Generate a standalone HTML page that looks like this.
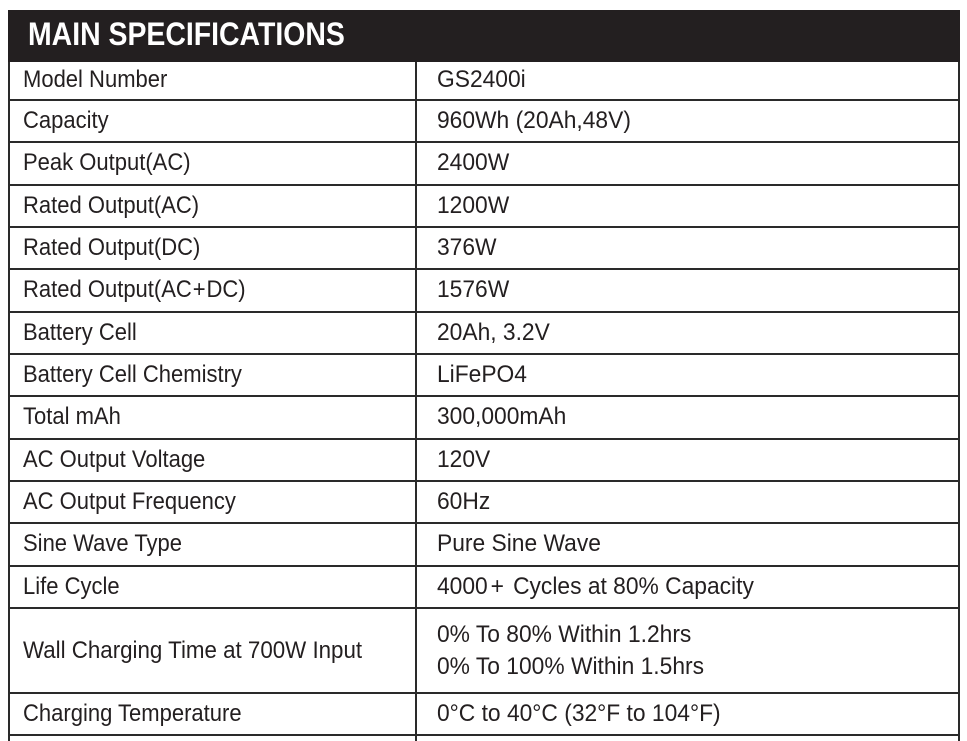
<!DOCTYPE html>
<html>
<head>
<meta charset="utf-8">
<style>
html,body{margin:0;padding:0;background:#fff;}
body{width:967px;height:741px;position:relative;overflow:hidden;font-family:"Liberation Sans",Arial,sans-serif;color:#231f20;}
.hdr{position:absolute;left:8px;top:10px;width:952px;height:52px;background:#231f20;}
.ht{position:absolute;left:28px;top:10px;height:48px;line-height:48px;font-weight:bold;font-size:32px;color:#fff;transform:scaleX(0.888);transform-origin:left center;white-space:nowrap;}
.h{position:absolute;left:8px;width:952px;height:2px;background:#2a2a2a;}
.v{position:absolute;width:2px;background:#2a2a2a;}
.t{position:absolute;font-size:24px;white-space:nowrap;transform:scaleX(0.917);transform-origin:left center;}
.r{transform:scaleX(0.95);}
.p{margin:0 3px;}
</style>
</head>
<body>
<div class="hdr"></div>
<div class="ht">MAIN SPECIFICATIONS</div>

<!-- verticals -->
<div class="v" style="left:8px;top:62px;height:679px;"></div>
<div class="v" style="left:415px;top:62px;height:679px;width:1.6px;"></div>
<div class="v" style="left:958px;top:62px;height:679px;"></div>

<!-- horizontals -->
<div class="h" style="top:99px"></div>
<div class="h" style="top:141.3px"></div>
<div class="h" style="top:183.7px"></div>
<div class="h" style="top:226px"></div>
<div class="h" style="top:268.3px"></div>
<div class="h" style="top:310.7px"></div>
<div class="h" style="top:353px"></div>
<div class="h" style="top:395.3px"></div>
<div class="h" style="top:437.7px"></div>
<div class="h" style="top:480px"></div>
<div class="h" style="top:522.3px"></div>
<div class="h" style="top:564.7px"></div>
<div class="h" style="top:607px"></div>
<div class="h" style="top:692px"></div>
<div class="h" style="top:734px"></div>

<!-- rows: left column -->
<div class="t" style="left:23px;top:62px;height:37px;line-height:35px;">Model Number</div>
<div class="t" style="left:23px;top:101px;height:40px;line-height:40px;">Capacity</div>
<div class="t" style="left:23px;top:143.3px;height:40px;line-height:40px;">Peak Output(AC)</div>
<div class="t" style="left:23px;top:185.7px;height:40px;line-height:40px;">Rated Output(AC)</div>
<div class="t" style="left:23px;top:228px;height:40px;line-height:40px;">Rated Output(DC)</div>
<div class="t" style="left:23px;top:270.3px;height:40px;line-height:40px;">Rated Output(AC<span style="margin:0 1px">+</span>DC)</div>
<div class="t" style="left:23px;top:312.7px;height:40px;line-height:40px;">Battery Cell</div>
<div class="t" style="left:23px;top:355px;height:40px;line-height:40px;">Battery Cell Chemistry</div>
<div class="t" style="left:23px;top:397.3px;height:40px;line-height:40px;">Total mAh</div>
<div class="t" style="left:23px;top:439.7px;height:40px;line-height:40px;">AC Output Voltage</div>
<div class="t" style="left:23px;top:482px;height:40px;line-height:40px;">AC Output Frequency</div>
<div class="t" style="left:23px;top:524.3px;height:40px;line-height:40px;">Sine Wave Type</div>
<div class="t" style="left:23px;top:566.7px;height:40px;line-height:40px;">Life Cycle</div>
<div class="t" style="left:23px;top:609px;height:83px;line-height:83px;transform:scaleX(0.93);">Wall Charging Time at 700W Input</div>
<div class="t" style="left:23px;top:694px;height:40px;line-height:40px;">Charging Temperature</div>

<!-- rows: right column -->
<div class="t r" style="left:437px;top:62px;height:37px;line-height:35px;">GS2400i</div>
<div class="t r" style="left:437px;top:101px;height:40px;line-height:40px;">960Wh (20Ah,48V)</div>
<div class="t r" style="left:437px;top:143.3px;height:40px;line-height:40px;">2400W</div>
<div class="t r" style="left:437px;top:185.7px;height:40px;line-height:40px;">1200W</div>
<div class="t r" style="left:437px;top:228px;height:40px;line-height:40px;">376W</div>
<div class="t r" style="left:437px;top:270.3px;height:40px;line-height:40px;">1576W</div>
<div class="t r" style="left:437px;top:312.7px;height:40px;line-height:40px;">20Ah, 3.2V</div>
<div class="t r" style="left:437px;top:355px;height:40px;line-height:40px;">LiFePO4</div>
<div class="t r" style="left:437px;top:397.3px;height:40px;line-height:40px;">300,000mAh</div>
<div class="t r" style="left:437px;top:439.7px;height:40px;line-height:40px;">120V</div>
<div class="t r" style="left:437px;top:482px;height:40px;line-height:40px;">60Hz</div>
<div class="t r" style="left:437px;top:524.3px;height:40px;line-height:40px;">Pure Sine Wave</div>
<div class="t r" style="left:437px;top:566.7px;height:40px;line-height:40px;">4000<span class="p">+</span> Cycles at 80% Capacity</div>
<div class="t r" style="left:437px;top:618.5px;height:32px;line-height:32px;">0% To 80% Within 1.2hrs</div>
<div class="t r" style="left:437px;top:650.5px;height:32px;line-height:32px;">0% To 100% Within 1.5hrs</div>
<div class="t r" style="left:437px;top:694px;height:40px;line-height:40px;">0°C to 40°C (32°F to 104°F)</div>
</body>
</html>
